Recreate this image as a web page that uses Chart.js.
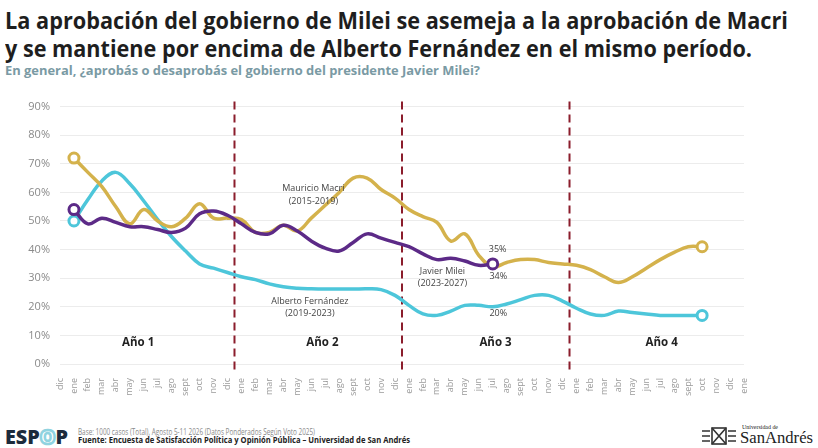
<!DOCTYPE html>
<html>
<head>
<meta charset="utf-8">
<script src="https://cdn.jsdelivr.net/npm/chart.js@4.4.1/dist/chart.umd.min.js"></script>
<style>
  body { margin: 0; background: #fff; width: 818px; height: 448px; overflow: hidden; position: relative; font-family: "Open Sans", sans-serif; }
  .fit { position: absolute; white-space: nowrap; transform-origin: 0 50%; }
  #t1, #t2 { font-size: 23px; font-weight: 700; color: #1e1e1e; line-height: 28px; left: 5px; }
  #t1 { top: 6px; }
  #t2 { top: 34px; }
  #sub { left: 5px; top: 61px; font-size: 13px; font-weight: 700; color: #7a9aa4; line-height: 18px; }
  #chartBox { position: absolute; left: 0; top: 90px; width: 818px; height: 312px; }
  #espop { left: 5px; top: 426px; font-size: 20px; font-weight: 800; color: #1c2b3c; line-height: 22px; }
  #espop span { color: #fff; -webkit-text-stroke: 2.5px #8fd3e0; }
  #base { left: 78px; top: 426px; font-size: 9px; color: #8a8a8a; line-height: 11px; }
  #fuente { left: 78px; top: 434px; font-size: 9px; font-weight: 700; color: #222; line-height: 11px; }
  #uni { left: 742px; top: 423px; font-size: 6px; font-family: "Liberation Serif", serif; color: #222; line-height: 8px; }
  #sa { left: 740px; top: 429px; font-size: 17px; font-family: "Liberation Serif", serif; color: #222; line-height: 18px; }
  #crest { position: absolute; left: 700px; top: 425px; }
</style>
</head>
<body>
<div id="t1" class="fit" data-w="783">La aprobación del gobierno de Milei se asemeja a la aprobación de Macri</div>
<div id="t2" class="fit" data-w="747">y se mantiene por encima de Alberto Fernández en el mismo período.</div>
<div id="sub" class="fit" data-w="475">En general, ¿aprobás o desaprobás el gobierno del presidente Javier Milei?</div>
<div id="chartBox"><canvas id="approval" width="818" height="312"></canvas></div>
<div id="espop" class="fit" data-w="63">ESP<span>O</span>P</div>
<div id="base" class="fit" data-w="237">Base: 1000 casos (Total), Agosto 5-11 2026 (Datos Ponderados Según Voto 2025)</div>
<div id="fuente" class="fit" data-w="332">Fuente: Encuesta de Satisfacción Política y Opinión Pública – Universidad de San Andrés</div>
<svg id="crest" width="38" height="22" viewBox="0 0 38 22">
  <g stroke="#333" stroke-width="1.6" fill="none">
    <rect x="12" y="3" width="14" height="16"/>
    <path d="M12 3 L26 19 M26 3 L12 19"/>
    <path d="M2 6 L10 6 M2 11 L10 11 M2 16 L10 16 M28 6 L36 6 M28 11 L36 11 M28 16 L36 16"/>
  </g>
</svg>
<div id="uni" class="fit" data-w="36">Universidad de</div>
<div id="sa" class="fit" data-w="73">SanAndrés</div>

<script>
// eje x: dic + 4 años (ene..dic) + ene
var months = ['ene', 'feb', 'mar', 'abr', 'may', 'jun', 'jul', 'ago', 'sept', 'oct', 'nov', 'dic'];
var labels = ['dic'].concat(months, months, months, months, ['ene']);

var macri = [null, 72, 67, 62, 55, 49, 54, 50, 48, 51, 56, 51, 51,
  50.5, 46, 46, 48.5, 46.5, 51, 55.5, 60, 65, 65, 61, 58,
  54, 51.5, 49.5, 43, 45.5, 38, 34, 35.5, 36.5, 36.5, 35.5, 35,
  34.5, 33, 30.5, 28.5, 30.5, 33.5, 36.5, 39, 41, 41, null, null, null];

var fernandez = [null, 50, 57.5, 64, 67, 63, 57, 50.5, 44.5, 39.5, 35, 33.5, 32,
  30.5, 29.5, 28, 27, 26.5, 26.3, 26.2, 26.2, 26.2, 26.3, 26, 24,
  20.5, 17.5, 17, 18.5, 20.5, 20.5, 20, 21, 22.5, 24, 24, 22,
  19.5, 17.5, 17, 18.5, 18, 17.5, 17, 17, 17, 17, null, null, null];

var milei = [null, 54, 49, 51, 49.5, 48, 48, 47, 46, 47.5, 52.5, 53.5, 52,
  49, 46, 45.5, 48.5, 46.5, 43, 40.5, 39.5, 42.5, 45.5, 44, 42.5,
  41, 38.5, 36.5, 37, 36, 34.5, 35];

var yTicks = [0, 10, 20, 30, 40, 50, 60, 70, 80, 90];
var yearBreaks = [12.5, 24.5, 36.5];
var yearNames = ['Año 1', 'Año 2', 'Año 3', 'Año 4'];

// ajusta el ancho de los textos
document.querySelectorAll('.fit').forEach(function(el) {
  var w = el.getBoundingClientRect().width;
  var target = parseFloat(el.getAttribute('data-w'));
  el.style.transform = 'scaleX(' + (target / w) + ')';
});

function endPoints(arr) {
  var first = -1, last = -1;
  for (var i = 0; i < arr.length; i++) {
    if (arr[i] !== null && arr[i] !== undefined) {
      if (first < 0) first = i;
      last = i;
    }
  }
  return function(c) {
    return (c.dataIndex === first || c.dataIndex === last) ? 5 : 0;
  };
}

function series(label, data, color, order) {
  return {
    label: label,
    data: data,
    borderColor: color,
    borderWidth: 3.5,
    tension: 0.4,
    fill: false,
    spanGaps: false,
    pointRadius: endPoints(data),
    pointBackgroundColor: '#fff',
    pointBorderColor: color,
    pointBorderWidth: 3,
    order: order
  };
}

var overlay = {
  id: 'overlay',
  beforeDatasetsDraw: function(chart) {
    var c = chart.ctx, xs = chart.scales.x, area = chart.chartArea;
    c.save();
    c.strokeStyle = '#8b1d2c';
    c.lineWidth = 2;
    c.setLineDash([8, 5]);
    yearBreaks.forEach(function(b) {
      var px = xs.getPixelForValue(b);
      c.beginPath();
      c.moveTo(px, area.top - 5);
      c.lineTo(px, area.bottom + 6);
      c.stroke();
    });
    c.restore();
  },
  afterDatasetsDraw: function(chart) {
    var c = chart.ctx, xs = chart.scales.x, ys = chart.scales.y;
    function txt(s, xi, yv, font, color) {
      c.font = font;
      c.fillStyle = color;
      c.textAlign = 'center';
      c.textBaseline = 'middle';
      c.fillText(s, xs.getPixelForValue(xi), ys.getPixelForValue(yv));
    }
    c.save();
    var small = '9px "Open Sans"';
    txt('Mauricio Macri', 18.15, 61.5, small, '#444');
    txt('(2015-2019)', 18.15, 57, small, '#444');
    txt('Alberto Fernández', 17.9, 21.9, small, '#444');
    txt('(2019-2023)', 17.9, 17.7, small, '#444');
    txt('Javier Milei', 27.4, 32.3, small, '#444');
    txt('(2023-2027)', 27.4, 28.1, small, '#444');
    txt(milei[31] + '%', 31.35, 39.9, small, '#444');
    txt(macri[31] + '%', 31.4, 30.6, small, '#444');
    txt(fernandez[31] + '%', 31.4, 17.7, small, '#444');
    var yearX = [5.6, 18.8, 31.2, 43.1];
    yearNames.forEach(function(n, i) {
      txt(n, yearX[i], 7.3, 'bold 11.5px "Open Sans"', '#222');
    });
    c.restore();
  }
};

new Chart(document.getElementById('approval'), {
  type: 'line',
  data: {
    labels: labels,
    datasets: [
      series('Javier Milei', milei, '#5c2a87', 1),
      series('Mauricio Macri', macri, '#d4b24c', 2),
      series('Alberto Fernández', fernandez, '#4dc6da', 3)
    ]
  },
  options: {
    responsive: false,
    animation: false,
    layout: { padding: { top: 15, right: 74, bottom: 0, left: 0 } },
    plugins: { legend: { display: false }, tooltip: { enabled: false } },
    scales: {
      x: {
        offset: false,
        grid: { display: false },
        border: { display: false },
        afterFit: function(axis) { axis.height = 38; },
        ticks: {
          autoSkip: false,
          maxRotation: 90,
          minRotation: 90,
          padding: 6,
          color: '#9a9a9a',
          font: { family: 'Open Sans', size: 9 }
        }
      },
      y: {
        min: 0,
        max: 90,
        afterFit: function(axis) { axis.width = 60; },
        afterBuildTicks: function(axis) {
          axis.ticks = yTicks.map(function(v) { return { value: v }; });
        },
        grid: { color: '#ececec', lineWidth: 1, drawTicks: false },
        border: { display: false },
        ticks: {
          padding: 10,
          color: '#8a8a8a',
          font: { family: 'Open Sans', size: 11 },
          callback: function(v) { return v + '%'; }
        }
      }
    }
  },
  plugins: [overlay]
});
</script>
</body>
</html>
